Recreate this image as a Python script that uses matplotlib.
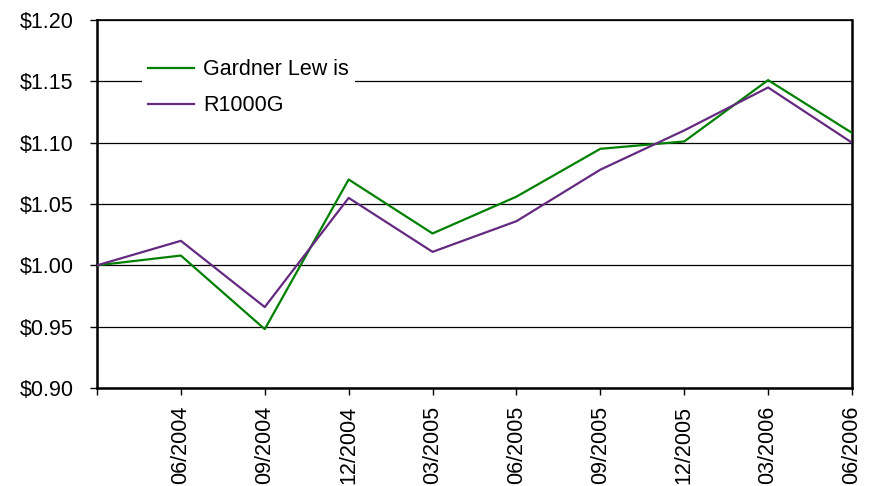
import matplotlib
matplotlib.use("Agg")
import matplotlib.pyplot as plt
import numpy as np

# quarter-end labels (first point has no label)
quarters = ['', '06/2004', '09/2004', '12/2004', '03/2005', '06/2005',
            '09/2005', '12/2005', '03/2006', '06/2006']
gardner_lewis = [1.000, 1.008, 0.948, 1.070, 1.026, 1.056, 1.095, 1.101, 1.151, 1.108]
r1000g = [1.000, 1.020, 0.966, 1.055, 1.011, 1.036, 1.078, 1.110, 1.145, 1.100]
y_ticks = [0.90, 0.95, 1.00, 1.05, 1.10, 1.15, 1.20]

plt.rcParams['font.family'] = ['Liberation Sans', 'DejaVu Sans']

fig = plt.figure(figsize=(8.76, 4.86), dpi=100)
ax = fig.add_axes([0.1107, 0.2016, 0.8619, 0.7572])

x = np.arange(len(quarters))
ax.plot(x, gardner_lewis, color='#008000', lw=1.6, label='Gardner Lew is', zorder=3)
ax.plot(x, r1000g, color='#642a80', lw=1.6, label='R1000G', zorder=3)

ax.set_xlim(0, len(quarters) - 1)
ax.set_ylim(0.90, 1.20)
ax.set_yticks(y_ticks)
ax.set_yticklabels([f'${v:.2f}' for v in y_ticks])
ax.set_xticks(x)
ax.set_xticklabels(quarters, rotation=90)
ax.tick_params(axis='both', labelsize=15.5, length=5, width=1, direction='out', color='black')
ax.tick_params(axis='x', pad=8)
ax.tick_params(axis='y', pad=12)

ax.grid(axis='y', color='black', lw=0.9, zorder=1)
ax.set_axisbelow(True)
for side in ['left', 'bottom', 'right']:
    ax.spines[side].set_linewidth(1.8)
ax.spines['top'].set_linewidth(1.2)

leg = ax.legend(loc='upper left', bbox_to_anchor=(0.045, 0.94), fontsize=15.5,
                frameon=True, fancybox=False, handlelength=2.15, handletextpad=0.4,
                labelspacing=0.7, borderpad=0.3)
leg.get_frame().set_facecolor('white')
leg.get_frame().set_edgecolor('none')
leg.get_frame().set_alpha(1)

fig.savefig('out.png', dpi=100)
